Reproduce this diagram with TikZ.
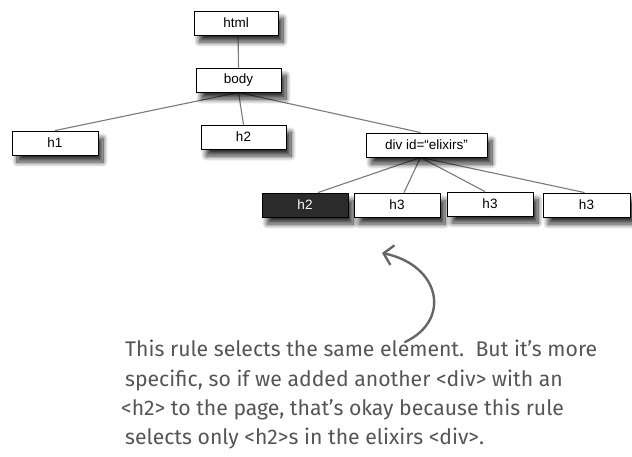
\documentclass[tikz,border=0pt]{standalone}
\usepackage{fontspec}
\setmainfont{Fira Sans}
\newfontfamily\boxfont{Liberation Sans}
\usetikzlibrary{shadows.blur,arrows.meta,backgrounds}
\definecolor{linegray}{HTML}{7A7A7A}
\definecolor{notegray}{HTML}{555555}
\definecolor{darkbox}{HTML}{2B2B2B}
\tikzset{
  elbox/.style={draw=black, line width=0.9pt, fill=white, minimum width=85pt, minimum height=24pt,
    inner sep=0pt, font=\boxfont\fontsize{13.5}{15}\selectfont,
    blur shadow={shadow xshift=5pt, shadow yshift=-7pt, shadow blur steps=12, shadow blur radius=5pt, shadow opacity=80}},
  darkel/.style={elbox, fill=darkbox, text=white},
  conn/.style={draw=linegray, line width=1.1pt},
  notetext/.style={anchor=base west, inner sep=0pt, text=notegray, font=\fontsize{21.2}{24}\selectfont},
  notearrow/.style={draw=notegray!90, line width=2.4pt, line cap=round, -{Straight Barb[length=9pt,width=20pt,line width=2.4pt]}}
}
\begin{document}
\begin{tikzpicture}[x=1pt,y=-1pt]
\useasboundingbox (0,0) rectangle (632,456);
\node[elbox, minimum width=84pt] (html) at (236,23) {html};
\node[elbox] (body) at (238.5,80) {body};
\node[elbox, minimum width=86pt] (h1) at (55,143) {h1};
\node[elbox] (h2a) at (243.5,137) {h2};
\node[elbox, minimum width=121pt] (div) at (426.5,145) {div id=“elixirs”};
\node[darkel, minimum width=86pt] (h2b) at (305,205) {h2};
\node[elbox, minimum width=86pt] (h3a) at (397,205) {h3};
\node[elbox, minimum width=86pt] (h3b) at (490,204) {h3};
\node[elbox, minimum width=87pt] (h3c) at (586.5,205) {h3};
\begin{scope}[on background layer]
\draw[conn] (html.center) ++(2,6) -- (body.north);
\draw[conn] (body.south) -- (h1.north);
\draw[conn] (body.south) -- (h2a.north);
\draw[conn] (body.south) -- ([xshift=-6pt]div.north);
\draw[conn] ([xshift=-6pt]div.south) -- ([xshift=13pt]h2b.north);
\draw[conn] ([xshift=-6pt]div.south) -- ([xshift=7pt]h3a.north);
\draw[conn] ([xshift=-6pt]div.south) -- ([xshift=-5pt]h3b.north);
\draw[conn] ([xshift=-6pt]div.south) -- ([xshift=-2pt]h3c.north);
\end{scope}
\node[notetext] (l1) at (125,356) {This rule selects the same element.\ \ But it’s more};
\node[notetext] (l2) at (125,386) {specific, so if we added another <div> with an};
\node[notetext] (l3) at (121,415) {<h2> to the page, that’s okay because this rule};
\node[notetext] (l4) at (125,444) {selects only <h2>s in the elixirs <div>.};
\coordinate (arrstart) at (405,342);
\coordinate (arrtip) at (382,253);
\draw[notearrow] (arrstart) .. controls (452,320) and (440,265) .. (arrtip);
\end{tikzpicture}
\end{document}
